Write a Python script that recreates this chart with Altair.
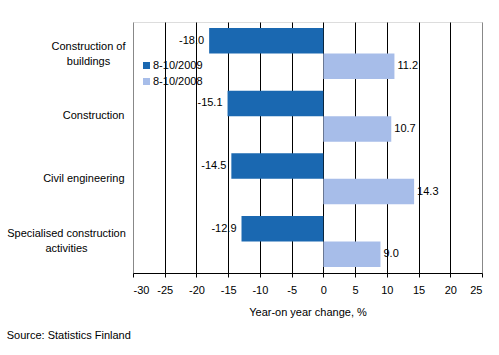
import altair as alt
import pandas as pd

categories = ["Construction of|buildings", "Construction", "Civil engineering",
              "Specialised construction|activities"]
series = ["8-10/2009", "8-10/2008"]
values_2009 = [-18.0, -15.1, -14.5, -12.9]
values_2008 = [11.2, 10.7, 14.3, 9.0]
x_ticks = [-30, -25, -20, -15, -10, -5, 0, 5, 10, 15, 20, 25]

rows = []
for c, v in zip(categories, values_2009):
    rows.append({"cat": c, "series": series[0], "value": v})
for c, v in zip(categories, values_2008):
    rows.append({"cat": c, "series": series[1], "value": v})
df = pd.DataFrame(rows)

FONT = "Liberation Sans"
DARK = "#1a68b1"
LIGHT = "#a7bde9"

two_line = "indexof(datum.label, '|') >= 0"
label_align = {"condition": {"test": two_line, "value": "center"}, "value": "right"}
label_offset = {"condition": {"test": two_line, "value": -7}, "value": 0}
label_padding = {
    "condition": [
        {"test": "datum.label == 'Construction of|buildings'", "value": 45},
        {"test": "datum.label == 'Specialised construction|activities'", "value": 67},
    ],
    "value": 9,
}

y_enc = alt.Y("cat:N", sort=categories, title=None,
              scale=alt.Scale(paddingInner=0.186, paddingOuter=0.096),
              axis=alt.Axis(labelExpr="split(datum.label, '|')", domain=False, ticks=False,
                            labelPadding=label_padding, labelAlign=label_align,
                            labelOffset=label_offset, labelFontSize=11, labelColor="black",
                            labelFont=FONT, labelLineHeight=15, grid=False))
yoff = alt.YOffset("series:N", sort=series, scale=alt.Scale(paddingInner=0, paddingOuter=0))
x_enc = alt.X("value:Q", title="Year-on year change, %",
              scale=alt.Scale(domain=[-30, 25], nice=False, zero=False),
              axis=alt.Axis(values=x_ticks, format="d", labelFontSize=11, labelFont=FONT,
                            labelColor="black", titleFont=FONT, titleFontSize=11,
                            titleFontWeight="normal", titleColor="black", titlePadding=11,
                            tickSize=4, tickColor="black", domainColor="black",
                            labelPadding=7, grid=True,
                            gridColor=alt.condition("datum.value == -30 || datum.value == 25",
                                                    alt.value("#888888"), alt.value("black")),
                            gridOpacity=1))

bars = alt.Chart(df).mark_bar().encode(
    y=y_enc, yOffset=yoff, x=x_enc,
    color=alt.Color("series:N", sort=series,
                    scale=alt.Scale(domain=series, range=[DARK, LIGHT]),
                    legend=alt.Legend(orient="none", legendX=8, legendY=38, title=None,
                                      symbolType="square", symbolSize=49, symbolStrokeWidth=0,
                                      labelFontSize=11, labelFont=FONT, labelColor="black",
                                      rowPadding=4, labelOffset=1))
)

neg = alt.Chart(df[df["series"] == series[0]]).mark_text(
    align="right", baseline="middle", dx=-5, fontSize=11, font=FONT, color="black"
).encode(y=y_enc, yOffset=yoff, x=x_enc, text=alt.Text("value:Q", format=".1f"))

pos = alt.Chart(df[df["series"] == series[1]]).mark_text(
    align="left", baseline="middle", dx=3, fontSize=11, font=FONT, color="black"
).encode(y=y_enc, yOffset=yoff, x=x_enc, text=alt.Text("value:Q", format=".1f"))

chart = alt.layer(bars, neg, pos).properties(
    width=349, height=251,
    title=alt.TitleParams("Source: Statistics Finland", orient="bottom", anchor="start",
                          frame="bounds", font=FONT, fontSize=11, fontWeight="normal",
                          color="black", offset=13),
    autosize=alt.AutoSizeParams(type="none"),
    padding={"left": 133, "top": 22, "right": 17, "bottom": 82},
    background="white",
).configure_view(stroke="#888888", strokeWidth=1).configure(
    locale={"number": {"decimal": ".", "thousands": ",", "grouping": [3],
                       "currency": ["", ""], "minus": "-"}}
)

chart.save("out.html", embed_options={"renderer": "svg", "actions": False})
